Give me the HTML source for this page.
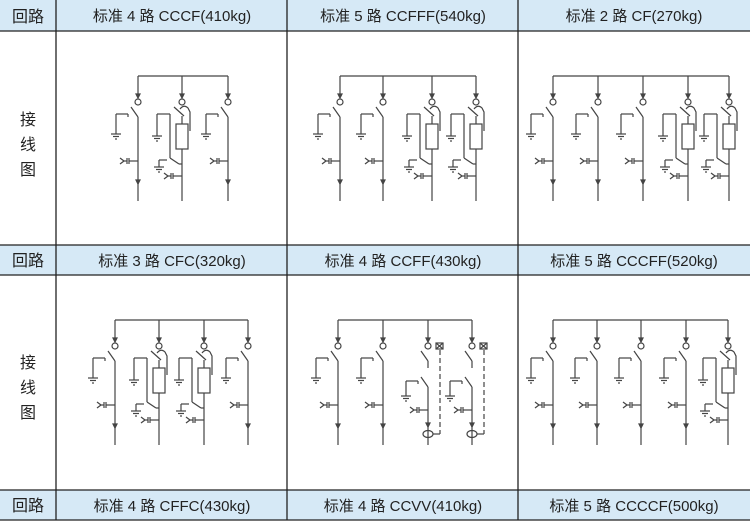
<!DOCTYPE html>
<html><head><meta charset="utf-8"><style>
body{margin:0;background:#fff;width:750px;height:522px;overflow:hidden}
svg{display:block}
text{font-family:"Liberation Sans","Noto Sans CJK SC",sans-serif;fill:#222}
</style></head><body>
<svg id="s" width="750" height="522" xmlns="http://www.w3.org/2000/svg">
<rect x="0" y="0" width="750" height="31" fill="#d6e9f6"/>
<rect x="0" y="245" width="750" height="30" fill="#d6e9f6"/>
<rect x="0" y="490" width="750" height="30" fill="#d6e9f6"/>
<g stroke="#222" stroke-width="1.3">
<line x1="0" y1="31" x2="750" y2="31"/>
<line x1="0" y1="245" x2="750" y2="245"/>
<line x1="0" y1="275" x2="750" y2="275"/>
<line x1="0" y1="490" x2="750" y2="490"/>
<line x1="0" y1="520" x2="750" y2="520"/>
<line x1="56" y1="0" x2="56" y2="520"/>
<line x1="287" y1="0" x2="287" y2="520"/>
<line x1="518" y1="0" x2="518" y2="520"/>
</g>
<g font-size="15" text-anchor="middle">
<text x="172" y="21">标准 4 路 CCCF(410kg)</text>
<text x="403" y="21">标准 5 路 CCFFF(540kg)</text>
<text x="634" y="21">标准 2 路 CF(270kg)</text>
<text x="172" y="266">标准 3 路 CFC(320kg)</text>
<text x="403" y="266">标准 4 路 CCFF(430kg)</text>
<text x="634" y="266">标准 5 路 CCCFF(520kg)</text>
<text x="172" y="511">标准 4 路 CFFC(430kg)</text>
<text x="403" y="511">标准 4 路 CCVV(410kg)</text>
<text x="634" y="511">标准 5 路 CCCCF(500kg)</text>
</g>
<g font-size="16" text-anchor="middle">
<text x="28" y="22">回路</text><text x="28" y="266">回路</text><text x="28" y="511">回路</text>
<text x="28" y="125">接</text><text x="28" y="150">线</text><text x="28" y="175">图</text>
<text x="28" y="368">接</text><text x="28" y="393">线</text><text x="28" y="418">图</text>
</g>
<g id="d" stroke="#444" stroke-width="1.2" fill="none"></g>
</svg>
<script>
var out='';
function L(a,b,c,d,ex){out+='<line x1="'+a+'" y1="'+b+'" x2="'+c+'" y2="'+d+'"'+(ex||'')+'/>';}
function arrow(x,y){out+='<path d="M'+(x-2)+' '+(y-4)+'L'+(x+2)+' '+(y-4)+'L'+x+' '+y+'Z" fill="#444"/>';}
function earth(x,y){L(x-5,y,x+5,y);L(x-3,y+2.5,x+3,y+2.5);L(x-1,y+5,x+1,y+5);}
function cap(x,y){L(x-9,y,x,y);L(x-9,y-3,x-9,y+3);L(x-11,y-3,x-11,y+3);L(x-11,y,x-14,y);L(x-14,y,x-18,y-3);L(x-14,y,x-18,y+3);}
function drawTop(x,b){L(x,b,x,b+19);arrow(x,b+22);out+='<circle cx="'+x+'" cy="'+(b+26)+'" r="3"/>';}
function C(x,b){drawTop(x,b);L(x-7,b+31,x,b+41);L(x,b+41,x,b+125);arrow(x,b+108);
 L(x-22,b+38,x-10,b+38);L(x-10,b+38,x-10,b+41);L(x-22,b+38,x-22,b+58);earth(x-22,b+58);cap(x,b+85);}
function F(x,b){drawTop(x,b);L(x-8,b+31,x+2,b+40);
 out+='<path d="M'+(x-2)+' '+(b+33)+'Q'+(x+2)+' '+(b+28)+' '+(x+6)+' '+(b+32)+'L'+(x+8)+' '+(b+36)+'L'+(x+8)+' '+(b+55)+'"/>';
 L(x-12,b+38,x-12,b+82);L(x-25,b+38,x-12,b+38);L(x-25,b+38,x-25,b+60);earth(x-25,b+60);
 out+='<rect x="'+(x-6)+'" y="'+(b+48)+'" width="12" height="25"/>';
 L(x,b+40,x,b+48);L(x,b+73,x,b+125);L(x-12,b+82,x-3,b+88);L(x-3,b+88,x,b+88);
 L(x-23,b+84,x-15,b+84);L(x-23,b+84,x-23,b+91);earth(x-23,b+91);cap(x,b+100);}
function V(x,b){drawTop(x,b);L(x-7,b+31,x,b+41);L(x,b+41,x,b+48);L(x-7,b+57,x,b+67);L(x,b+67,x,b+125);arrow(x,b+107);
 L(x-22,b+61,x-10,b+61);L(x-10,b+61,x-10,b+64);L(x-22,b+61,x-22,b+76);earth(x-22,b+76);cap(x,b+90);
 out+='<rect x="'+(x+8)+'" y="'+(b+23)+'" width="7" height="6"/>';L(x+8,b+23,x+15,b+29);L(x+15,b+23,x+8,b+29);
 L(x+12,b+30,x+12,b+114,' stroke-dasharray="5,3"');L(x+12,b+114,x+5,b+114);
 out+='<ellipse cx="'+x+'" cy="'+(b+114)+'" rx="5" ry="3.5"/>';}
var T={C:C,F:F,V:V};
function P(b,xs,ts){L(xs[0],b,xs[xs.length-1],b);for(var i=0;i<xs.length;i++)T[ts[i]](xs[i],b);}
P(76,[138,182,228],'CFC');
P(76,[340,383,432,476],'CCFF');
P(76,[553,598,643,688,729],'CCCFF');
P(320,[115,159,204,248],'CFFC');
P(320,[338,383,428,472],'CCVV');
P(320,[553,597,641,686,728],'CCCCF');
document.getElementById('d').innerHTML=out;
</script>
</body></html>
